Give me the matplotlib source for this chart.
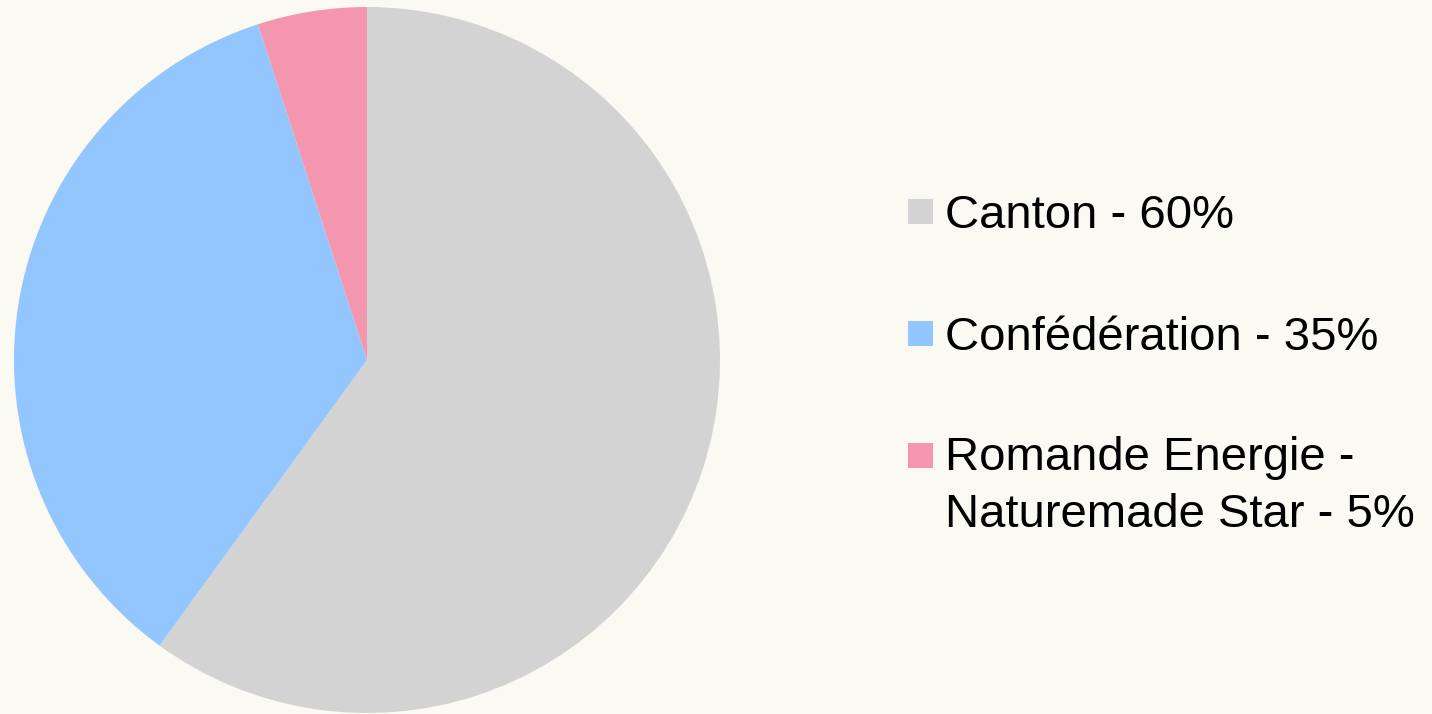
import matplotlib
matplotlib.use("Agg")
import matplotlib.pyplot as plt
from matplotlib.patches import Rectangle

labels = ["Canton - 60%", "Confédération - 35%", "Romande Energie -\nNaturemade Star - 5%"]
values = [60, 35, 5]
colors = ["#D3D3D3", "#93C6FF", "#F497AE"]

W, H = 1432, 714
fig = plt.figure(figsize=(W / 100, H / 100), dpi=100)
fig.patch.set_facecolor("#FAF9F2")

cx, cy, r = 367, 360, 353
ax = fig.add_axes([(cx - r) / W, (H - cy - r) / H, 2 * r / W, 2 * r / H])
ax.pie(values, colors=colors, startangle=90, counterclock=False, radius=1,
       wedgeprops=dict(linewidth=0))
ax.set_xlim(-1, 1)
ax.set_ylim(-1, 1)
ax.set_aspect("equal")
ax.axis("off")

# legend entries
first_baselines = [228, 350, 472]
line_step = 55
for lab, col, bl in zip(labels, colors, first_baselines):
    fig.patches.append(Rectangle((908 / W, (H - bl + 4) / H), 25 / W, 25 / H,
                                 transform=fig.transFigure, facecolor=col,
                                 edgecolor="none"))
    nlines = lab.count("\n") + 1
    last_bl = bl + (nlines - 1) * line_step
    fig.text(945 / W, (H - last_bl) / H, lab, fontsize=34, family="Liberation Sans",
             va="baseline", ha="left", linespacing=1.37, color="#000000")

fig.savefig("out.png", dpi=100, facecolor=fig.get_facecolor())
